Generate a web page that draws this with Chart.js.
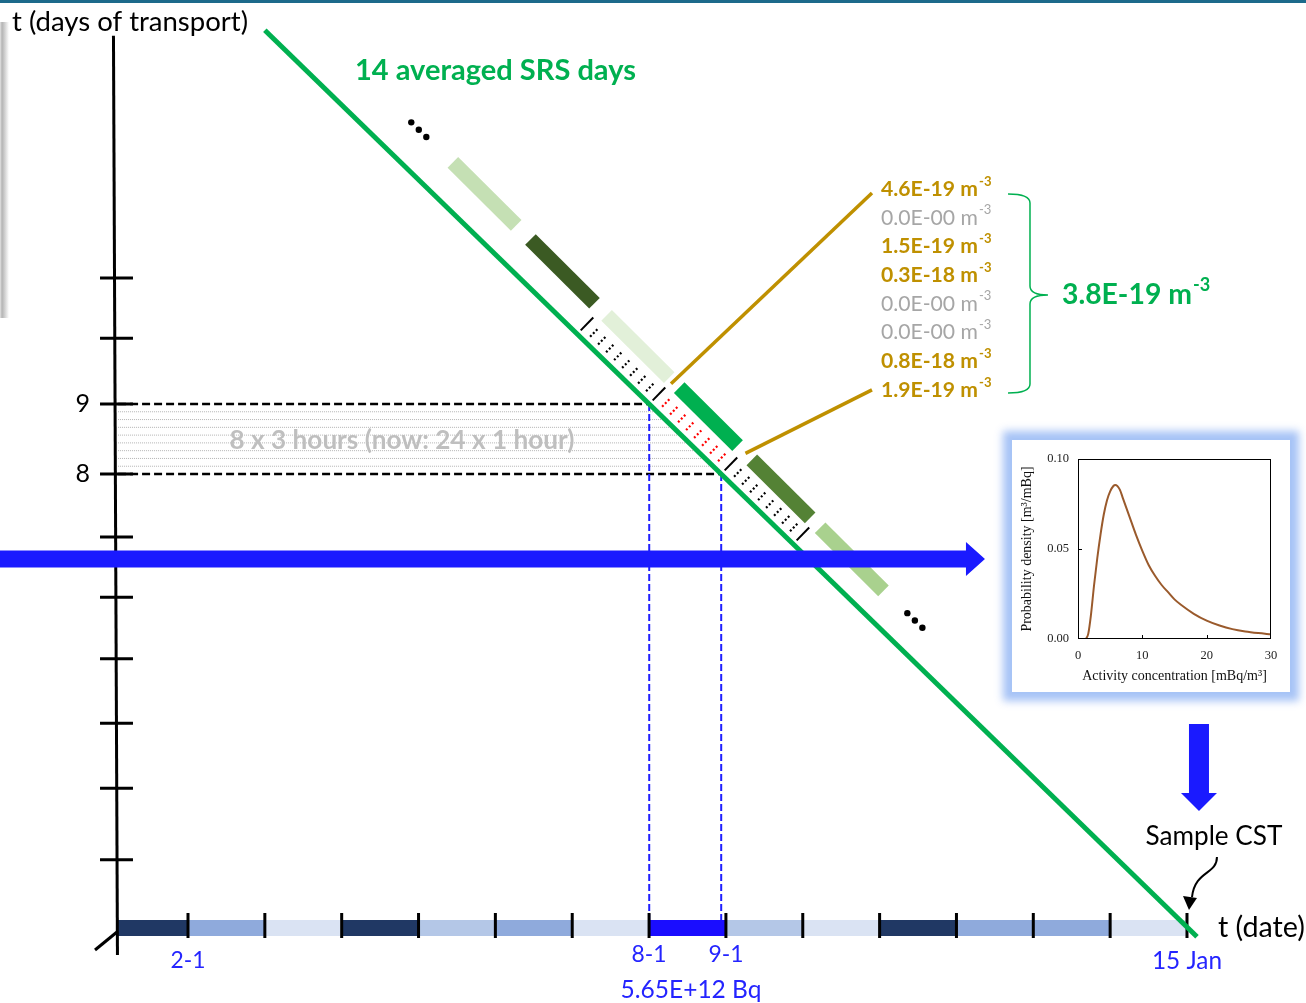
<!DOCTYPE html>
<html>
<head>
<meta charset="utf-8">
<script src="https://cdn.jsdelivr.net/npm/chart.js@4/dist/chart.umd.min.js"></script>
<style>
  html, body { margin: 0; padding: 0; background: #ffffff; }
  #wrap { position: relative; width: 1306px; height: 1003px; overflow: hidden; }
  #main { position: absolute; left: 0; top: 0; width: 1306px; height: 1003px; }
  #topRule { position: absolute; left: 0; top: 0; width: 1306px; height: 3px; background: #1d6a8b; }
  #leftShade { position: absolute; left: 0; top: 22px; width: 9px; height: 296px;
               background: linear-gradient(to right, #e4e4e4 0px, #b4b4b4 2px, #c8c8c8 4px, #ffffff 9px); }
  #insetBox { position: absolute; left: 1012px; top: 440px; width: 278px; height: 252px; background: #ffffff;
              box-shadow: 0 0 8px 9px rgba(150, 185, 245, 0.85); }
  #inset { display: block; width: 278px; height: 252px; }
</style>
</head>
<body>
<div id="wrap">
  <canvas id="main" width="1306" height="1003"></canvas>
  <div id="topRule"></div>
  <div id="leftShade"></div>
  <div id="insetBox"><canvas id="inset" width="278" height="252"></canvas></div>
</div>
<script>
// ---------------- data ----------------
// Date axis: day boundaries (day of January) and daily release-period colours (Jan 1 ... Jan 14)
const releaseDays = [2, 3, 4, 5, 6, 7, 8, 9, 10, 11, 12, 13, 14, 15];
const releaseColors = ['#203864', '#8faadc', '#dae3f3', '#203864', '#b4c7e7', '#8faadc', '#dae3f3',
                       '#1a0dff', '#b4c7e7', '#dae3f3', '#203864', '#8faadc', '#8faadc', '#dae3f3'];
const dateLabelDays = [2, 8, 9, 15];
const dateLabels = ['2-1', '8-1', '9-1', '15 Jan'];
const releaseAmount = '5.65E+12 Bq';

// Transport-time axis (days)
const transportTicks = [10.8, 9.94, 9, 8, 7.1, 6.24, 5.36, 4.44, 3.51, 2.49];
const transportLabels = [9, 8];
const selectedDay = [9, 8];          // transport window of the release day
const blocksPerDay = 9;              // 3-hour sub-division marks (8 per day)

// Source-receptor sensitivity line (date, transport days)
const srsLine = [{ x: 3.0, y: 14.34 }, { x: 15.13, y: 1.39 }];
const srsBarSpans = [[12.08, 11.19], [10.99, 10.09], [9.92, 9.04], [8.90, 8.08], [7.88, 7.06], [6.92, 6.03]];
const srsBarColors = ['#c5e0b4', '#3b5a23', '#e2f0d9', '#00b050', '#548235', '#a9d18e'];
const srsSelectedBar = 3;
const dayBoundaries = [10, 9, 8, 7];
const hourBlockDays = [10, 9, 8];

// Concentrations per 3-hour block and their average
const concentrations = ['4.6E-19', '0.0E-00', '1.5E-19', '0.3E-18', '0.0E-00', '0.0E-00', '0.8E-18', '1.9E-19'];
const concMean = '3.8E-19';

// Probability density of the activity concentration
const pdfConc    = [1.25, 1.6, 2.0, 2.5, 3.0, 3.5, 4.0, 4.5, 5.0, 5.5, 5.8, 6.5, 7.0, 8.0, 9.0, 10.0,
                    11.0, 12.0, 13.0, 14.0, 15.0, 16.0, 18.0, 20.0, 22.0, 24.0, 26.0, 28.0, 30.0];
const pdfDensity = [0.000, 0.003, 0.013, 0.030, 0.045, 0.058, 0.069, 0.077, 0.082, 0.085, 0.0856, 0.083, 0.078,
                    0.068, 0.058, 0.049, 0.041, 0.035, 0.030, 0.026, 0.022, 0.019, 0.014, 0.0102, 0.0075,
                    0.0055, 0.0042, 0.0033, 0.0026];

// ---------------- layout (view window, in axis units) ----------------
const view = { xMin: -0.4465, xMax: 16.5487, yMin: 0.4429, yMax: 14.7714 };
const axisDate = 1.09, axisDay = 1.514;          // where the two axes meet
const yAxisTop = { x: 1.03, y: 14.26 }, yAxisBottom = { x: 1.082, y: 1.13 };

const FONT = 'Lato, "Open Sans", sans-serif';
const BLUE_TXT = '#2424ff';

function srsDateAt(d) {
  const p = srsLine[0], q = srsLine[1];
  return p.x + (d - p.y) * (q.x - p.x) / (q.y - p.y);
}

function line(points, style, order) {
  return Object.assign({ type: 'scatter', showLine: true, data: points, pointRadius: 0, pointHoverRadius: 0,
    borderCapStyle: 'butt', tension: 0, fill: false, spanGaps: false, order }, style);
}
function pieces(pairs) {
  const pts = [];
  pairs.forEach((pr, i) => { if (i) pts.push({ x: null, y: null }); pts.push(pr[0], pr[1]); });
  return pts;
}

// ---------------- datasets (lower order = drawn on top) ----------------
const datasets = [];
// 3-hour grid lines of the selected day
const hourLines = [];
for (let k = 1; k < blocksPerDay; k++) {
  const d = selectedDay[1] + k / blocksPerDay;
  hourLines.push([{ x: axisDate, y: d }, { x: srsDateAt(d), y: d }]);
}
datasets.push(line(pieces(hourLines), { borderColor: '#b4b4b4', borderWidth: 1, borderDash: [1, 1] }, 20));
// dashed levels of the selected day
datasets.push(line(pieces(selectedDay.map(d => [{ x: axisDate, y: d }, { x: srsDateAt(d), y: d }])),
  { borderColor: '#000000', borderWidth: 2.5, borderDash: [8, 4] }, 19));
// drop lines to the release period
datasets.push(line(pieces(selectedDay.map(d => [{ x: srsDateAt(d), y: d }, { x: srsDateAt(d), y: axisDay }])),
  { borderColor: '#1f1fff', borderWidth: 2, borderDash: [7, 3] }, 18));
// release-period bar along the date axis
datasets.push(line([{ x: axisDate, y: axisDay }].concat(releaseDays.map(d => ({ x: d, y: axisDay }))),
  { borderWidth: 16, borderColor: releaseColors[0],
    segment: { borderColor: c => releaseColors[c.p0DataIndex] } }, 17));
// day ticks on the date axis
datasets.push(line(pieces(releaseDays.map(d => [{ x: d, y: axisDay + 0.215 }, { x: d, y: axisDay - 0.143 }])),
  { borderColor: '#000000', borderWidth: 3 }, 16));
// transport-time axis
datasets.push(line([yAxisTop, yAxisBottom], { borderColor: '#000000', borderWidth: 3 }, 15));
datasets.push(line(pieces(transportTicks.map(d => [{ x: 0.855, y: d }, { x: 1.284, y: d }])),
  { borderColor: '#000000', borderWidth: 3 }, 14));
datasets.push(line([{ x: 0.79, y: 1.2 }, { x: 1.076, y: 1.457 }], { borderColor: '#000000', borderWidth: 3 }, 13));
// SRS line
datasets.push(line(srsLine, { borderColor: '#00b050', borderWidth: 5 }, 12));

// ---------------- drawing helpers ----------------
function geom(chart) {
  const xs = chart.scales.x, ys = chart.scales.y;
  const P = (x, y) => [xs.getPixelForValue(x), ys.getPixelForValue(y)];
  const A = P(srsLine[0].x, srsLine[0].y), B = P(srsLine[1].x, srsLine[1].y);
  const L = Math.hypot(B[0] - A[0], B[1] - A[1]);
  const u = [(B[0] - A[0]) / L, (B[1] - A[1]) / L];
  const n = [u[1], -u[0]];
  const at = d => P(srsDateAt(d), d);
  const shift = (p, a, o) => [p[0] + u[0] * a + n[0] * o, p[1] + u[1] * a + n[1] * o];
  return { P, u, n, at, shift };
}
function seg(ctx, p, q) { ctx.beginPath(); ctx.moveTo(p[0], p[1]); ctx.lineTo(q[0], q[1]); ctx.stroke(); }

// annotation anchors (axis units)
const concAnchor = { x: 11.018, y: 12.071, step: 0.41 };
const meanAnchor = { x: 13.373, y: 10.557 };
const braceAnchor = { left: 12.671, mid: 12.957, tip: 13.191, top: 12.0, center: 10.557, bottom: 9.157 };
const transportArrow = { day: 6.786, tip: 12.371 };
const sampleArrow = { date: 15.156, from: 4.429, to: 3.186 };
const sampleHook = { from: { x: 15.39, y: 2.529 }, to: { x: 15.026, y: 1.771 } };

// SRS day bars, hour marks and their links to the concentration list
const srsBand = {
  id: 'srsBand',
  afterDatasetsDraw(chart) {
    const ctx = chart.ctx;
    const { P, at, shift } = geom(chart);
    const barOff = d => 32.8 + (d - 9) * 1.15;
    ctx.save();
    ctx.lineCap = 'butt';
    srsBarSpans.forEach((s, i) => {
      ctx.strokeStyle = srsBarColors[i];
      ctx.lineWidth = 15;
      seg(ctx, shift(at(s[0]), 0, barOff(s[0])), shift(at(s[1]), 0, barOff(s[1])));
    });
    // day boundaries
    ctx.strokeStyle = '#000000'; ctx.lineWidth = 2;
    dayBoundaries.forEach(d => { const p = at(d); seg(ctx, shift(p, 0, 5), shift(p, 0, 23)); });
    // 3-hour marks
    ctx.lineWidth = 2.2; ctx.setLineDash([2, 2.2]);
    hourBlockDays.forEach(d0 => {
      ctx.strokeStyle = d0 === selectedDay[0] ? '#ff0000' : '#000000';
      for (let k = 1; k < blocksPerDay; k++) {
        const p = at(d0 - k / blocksPerDay);
        seg(ctx, shift(p, 0, 7), shift(p, 0, 19));
      }
    });
    ctx.setLineDash([]);
    // ellipses beyond the drawn days
    ctx.fillStyle = '#000000';
    [[12.55, 36], [5.6, 30]].forEach(([d, o]) => {
      [-10.5, 0, 10.5].forEach(a => {
        const p = shift(at(d), a, o);
        ctx.beginPath(); ctx.arc(p[0], p[1], 3.2, 0, Math.PI * 2); ctx.fill();
      });
    });
    // links from the selected day to the concentration list
    const sb = srsBarSpans[srsSelectedBar];
    const first = P(concAnchor.x, concAnchor.y), last = P(concAnchor.x, concAnchor.y - concAnchor.step * (concentrations.length - 1));
    ctx.strokeStyle = '#bf9000'; ctx.lineWidth = 3.5;
    seg(ctx, shift(at(sb[0]), -8.5, barOff(sb[0]) - 3), [first[0] - 9, first[1] + 4]);
    seg(ctx, shift(at(sb[1]), 11, barOff(sb[1])), [last[0] - 9, last[1]]);
    ctx.restore();
  }
};

const decorations = {
  id: 'decorations',
  afterDatasetsDraw(chart) {
    const ctx = chart.ctx;
    const { P } = geom(chart);
    ctx.save();
    // brace grouping the concentrations
    const bt = P(braceAnchor.left, braceAnchor.top), bm = P(braceAnchor.mid, braceAnchor.center);
    const bb = P(braceAnchor.left, braceAnchor.bottom), tip = P(braceAnchor.tip, braceAnchor.center);
    const mx = bm[0], r = 9;
    ctx.strokeStyle = '#00b050'; ctx.lineWidth = 1.5;
    ctx.beginPath();
    ctx.moveTo(bt[0], bt[1]);
    ctx.quadraticCurveTo(mx, bt[1], mx, bt[1] + r);
    ctx.lineTo(mx, bm[1] - r);
    ctx.quadraticCurveTo(mx, bm[1], tip[0], bm[1]);
    ctx.quadraticCurveTo(mx, bm[1], mx, bm[1] + r);
    ctx.lineTo(mx, bb[1] - r);
    ctx.quadraticCurveTo(mx, bb[1], bb[0], bb[1]);
    ctx.stroke();
    // transport arrow
    ctx.fillStyle = '#1a1aff';
    const ha = P(chart.scales.x.min, transportArrow.day), ht = P(transportArrow.tip, transportArrow.day);
    ctx.beginPath();
    ctx.moveTo(ha[0], ha[1] - 8.5); ctx.lineTo(ht[0] - 19, ha[1] - 8.5); ctx.lineTo(ht[0] - 19, ha[1] - 17);
    ctx.lineTo(ht[0], ht[1]); ctx.lineTo(ht[0] - 19, ha[1] + 17); ctx.lineTo(ht[0] - 19, ha[1] + 8.5);
    ctx.lineTo(ha[0], ha[1] + 8.5); ctx.closePath(); ctx.fill();
    // arrow down to the sample
    const va = P(sampleArrow.date, sampleArrow.from), vt = P(sampleArrow.date, sampleArrow.to);
    ctx.beginPath();
    ctx.moveTo(va[0] - 10, va[1]); ctx.lineTo(va[0] + 10, va[1]); ctx.lineTo(va[0] + 10, vt[1] - 18);
    ctx.lineTo(va[0] + 18, vt[1] - 18); ctx.lineTo(vt[0], vt[1]); ctx.lineTo(va[0] - 18, vt[1] - 18);
    ctx.lineTo(va[0] - 10, vt[1] - 18); ctx.closePath(); ctx.fill();
    // hook arrow from the sample label
    const s0 = P(sampleHook.from.x, sampleHook.from.y), s1 = P(sampleHook.to.x, sampleHook.to.y);
    ctx.strokeStyle = '#000000'; ctx.lineWidth = 2;
    ctx.beginPath();
    ctx.moveTo(s0[0], s0[1]);
    ctx.bezierCurveTo(s0[0], s0[1] + 18, s1[0] + 6, s1[1] - 40, s1[0] + 3, s1[1] - 13);
    ctx.stroke();
    ctx.fillStyle = '#000000';
    ctx.beginPath();
    ctx.moveTo(s1[0], s1[1]); ctx.lineTo(s1[0] - 6, s1[1] - 14); ctx.lineTo(s1[0] + 8, s1[1] - 12); ctx.closePath(); ctx.fill();
    ctx.restore();
  }
};

// text sized so that it spans a given width (px)
function fitFont(ctx, s, weight, width) {
  ctx.font = weight + ' 100px ' + FONT;
  const size = 100 * width / ctx.measureText(s).width;
  return weight + ' ' + size.toFixed(2) + 'px ' + FONT;
}
function text(ctx, s, p, font, color, align, dx, dy) {
  ctx.font = font; ctx.fillStyle = color; ctx.textAlign = align || 'left'; ctx.textBaseline = 'middle';
  ctx.fillText(s, p[0] + (dx || 0), p[1] + (dy || 0));
}
function fitText(ctx, s, p, weight, width, color, align, dx, dy) {
  text(ctx, s, p, fitFont(ctx, s, weight, width), color, align, dx, dy);
}
function withSup(ctx, base, p, width, bold, color, supScale) {
  const w = bold ? 'bold' : 'normal';
  const f = fitFont(ctx, base + ' m', w, width);
  text(ctx, base + ' m', p, f, color);
  const size = parseFloat(f.split(' ')[1]);
  text(ctx, '-3', [p[0] + width + 1, p[1] - size * 0.36], w + ' ' + (size * supScale).toFixed(1) + 'px ' + FONT, color);
}

const labels = {
  id: 'labels',
  afterDatasetsDraw(chart) {
    const ctx = chart.ctx;
    const { P } = geom(chart);
    ctx.save();
    fitText(ctx, 't (days of transport)', P(-0.29, 14.457), 'normal', 236, '#000000');
    fitText(ctx, '14 averaged SRS days', P(4.173, 13.757), 'bold', 281, '#00b050');
    transportLabels.forEach(d => text(ctx, String(d), P(0.725, d), '25px ' + FONT, '#000000', 'right'));
    fitText(ctx, '8 x 3 hours (now: 24 x 1 hour)', P(4.785, 8.471), 'bold', 345, '#bfbfbf', 'center');
    concentrations.forEach((v, i) => {
      const nonZero = parseFloat(v) > 0;
      withSup(ctx, v, P(concAnchor.x, concAnchor.y - i * concAnchor.step), 97, nonZero,
              nonZero ? '#bf9000' : '#a6a6a6', 0.62);
    });
    withSup(ctx, concMean, P(meanAnchor.x, meanAnchor.y), 130, true, '#00b050', 0.64);
    dateLabelDays.forEach((d, i) => {
      const raised = d === 8 || d === 9;
      fitText(ctx, dateLabels[i], P(d, axisDay), 'normal', d === 15 ? 70 : 35, BLUE_TXT, 'center', 0, raised ? 27 : 33);
    });
    fitText(ctx, releaseAmount, P(8.546, 0.629), 'normal', 141, BLUE_TXT, 'center');
    fitText(ctx, 't (date)', P(15.403, axisDay), 'normal', 87, '#000000');
    fitText(ctx, 'Sample CST', P(15.351, 2.814), 'normal', 137, '#000000', 'center');
    ctx.restore();
  }
};

new Chart(document.getElementById('main'), {
  type: 'scatter',
  data: { datasets },
  options: {
    responsive: false, animation: false, events: [],
    layout: { padding: 0, autoPadding: false },
    scales: {
      x: { type: 'linear', display: false, min: view.xMin, max: view.xMax },
      y: { type: 'linear', display: false, min: view.yMin, max: view.yMax }
    },
    plugins: { legend: { display: false }, tooltip: { enabled: false } }
  },
  plugins: [srsBand, decorations, labels]
});

// ---------------- inset: probability density ----------------
const SERIF = '"Liberation Serif", "Times New Roman", serif';
const insetFrame = {
  id: 'insetFrame',
  afterDatasetsDraw(chart) {
    const { ctx, chartArea: a, scales: { x, y } } = chart;
    ctx.save();
    ctx.strokeStyle = '#000000'; ctx.lineWidth = 1;
    ctx.strokeRect(a.left + 0.5, a.top + 0.5, a.right - a.left - 1, a.bottom - a.top - 1);
    ctx.beginPath();
    [10, 20].forEach(v => { const px = Math.round(x.getPixelForValue(v)) + 0.5; ctx.moveTo(px, a.bottom); ctx.lineTo(px, a.bottom - 4); });
    const py = Math.round(y.getPixelForValue(0.05)) + 0.5; ctx.moveTo(a.left, py); ctx.lineTo(a.left + 4, py);
    ctx.stroke();
    ctx.restore();
  }
};
new Chart(document.getElementById('inset'), {
  type: 'scatter',
  data: { datasets: [{
    data: pdfConc.map((c, i) => ({ x: c, y: pdfDensity[i] })),
    showLine: true, pointRadius: 0, borderColor: '#9a5a2c', borderWidth: 2,
    cubicInterpolationMode: 'monotone', fill: false
  }] },
  options: {
    responsive: false, animation: false, events: [],
    layout: { padding: { top: 19, right: 19, left: 0, bottom: 0 }, autoPadding: false },
    scales: {
      x: { type: 'linear', min: 0, max: 30,
           ticks: { stepSize: 10, maxRotation: 0, padding: 9, color: '#222222', font: { family: SERIF, size: 12.5 } },
           grid: { display: false, drawTicks: false }, border: { display: false },
           title: { display: true, text: 'Activity concentration [mBq/m³]', color: '#111111',
                    font: { family: SERIF, size: 14 }, padding: { top: 0, bottom: 7.5 } },
           afterFit(s) { s.height = 53; } },
      y: { type: 'linear', min: 0, max: 0.1,
           ticks: { stepSize: 0.05, padding: 9, color: '#222222', font: { family: SERIF, size: 12.5 },
                    callback: v => v.toFixed(2) },
           grid: { display: false, drawTicks: false }, border: { display: false },
           title: { display: true, text: 'Probability density [m³/mBq]', color: '#111111',
                    font: { family: SERIF, size: 14 }, padding: { top: 6.5, bottom: 0 } },
           afterFit(s) { s.width = 66; } }
    },
    plugins: { legend: { display: false }, tooltip: { enabled: false } }
  },
  plugins: [insetFrame]
});
</script>
</body>
</html>
